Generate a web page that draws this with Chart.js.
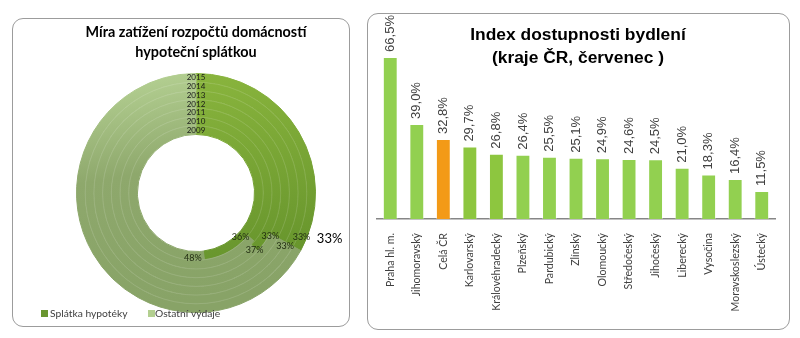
<!DOCTYPE html>
<html>
<head>
<meta charset="utf-8">
<script src="https://cdn.jsdelivr.net/npm/chart.js@4/dist/chart.umd.min.js"></script>
<style>
  body { margin: 0; background: #fff; width: 800px; height: 338px; position: relative; overflow: hidden; }
  .panel { position: absolute; box-sizing: border-box; border: 1px solid #9c9c9c; border-radius: 11px; background: #fff; }
  canvas { position: absolute; left: 0; top: 0; }
</style>
</head>
<body>
<div class="panel" style="left:12px; top:18px; width:338px; height:309px;"></div>
<div class="panel" style="left:367px; top:13px; width:423px; height:317px;"></div>
<canvas id="donut" width="338" height="309" style="left:12px; top:18px;"></canvas>
<canvas id="bars" width="423" height="317" style="left:367px; top:13px;"></canvas>
<script>
// left chart: rings from outside (2015) to inside (2009)
const years = ['2015', '2014', '2013', '2012', '2011', '2010', '2009'];
const mortgageShare = [33, 33, 33, 33, 37, 36, 48];
const otherShare = [67, 67, 67, 67, 63, 64, 52];
const shareLabels = ['Splátka hypotéky', 'Ostatní výdaje'];

// right chart
const regions = ['Praha hl. m.', 'Jihomoravský', 'Celá ČR', 'Karlovarský', 'Královéhradecký',
  'Plzeňský', 'Pardubický', 'Zlínský', 'Olomoucký', 'Středočeský', 'Jihočeský',
  'Liberecký', 'Vysočina', 'Moravskoslezský', 'Ústecký'];
const affordability = [66.5, 39.0, 32.8, 29.7, 26.8, 26.4, 25.5, 25.1, 24.9, 24.6, 24.5, 21.0, 18.3, 16.4, 11.5];

const calibri = 'Lato, "Open Sans", sans-serif';
const arial = '"Liberation Sans", Arial, sans-serif';

// label nudges per ring (degrees along the ring, pixels outward), like the hand-placed excel labels
const labelNudge = [[-10, 26], [-6, 8], [2, 6], [1.5, -3], [1, 1.5], [5, -9], [10, 2]];

function ringFill(ctx) {
  const chart = ctx.chart;
  const area = chart.chartArea;
  const dark = ctx.dataIndex === 0;
  if (!area) return dark ? '#7aa534' : '#93aa72';
  const g = chart.ctx.createLinearGradient(area.left, area.top, area.left + 40, area.bottom);
  if (dark) {
    g.addColorStop(0, '#8db83f');
    g.addColorStop(1, '#62902a');
  } else {
    g.addColorStop(0, '#b9d597');
    g.addColorStop(0.45, '#8ea86c');
    g.addColorStop(1, '#88a367');
  }
  return g;
}

const donutText = {
  id: 'donutText',
  afterDatasetsDraw(chart) {
    const c = chart.ctx;
    c.save();
    // faint seams between the rings
    chart.data.datasets.forEach((ds, i) => {
      if (i === 0) return;
      const arc = chart.getDatasetMeta(i).data[0];
      c.beginPath();
      c.arc(arc.x, arc.y, arc.outerRadius, 0, Math.PI * 2);
      c.strokeStyle = 'rgba(255,255,255,0.13)';
      c.lineWidth = 1;
      c.stroke();
    });
    chart.data.datasets.forEach((ds, i) => {
      const arc = chart.getDatasetMeta(i).data[0];
      const p = arc.getProps(['x', 'y', 'endAngle', 'innerRadius', 'outerRadius'], true);
      const r = (p.innerRadius + p.outerRadius) / 2;
      c.fillStyle = '#1a1a1a';
      c.font = '8px ' + calibri;
      c.textAlign = 'center';
      c.textBaseline = 'middle';
      c.fillText(ds.label, p.x, p.y - r);
      const txt = ds.data[0] + '%';
      const a = p.endAngle + labelNudge[i][0] * Math.PI / 180;
      const rr = r + labelNudge[i][1];
      if (i === 0) {
        c.font = '13px ' + calibri;
        c.fillStyle = '#000';
      } else {
        c.font = '9px ' + calibri;
        c.fillStyle = '#1f2a10';
      }
      c.fillText(txt, p.x + Math.cos(a) * rr, p.y + Math.sin(a) * rr);
    });
    c.restore();
  },
  afterDraw(chart) {
    const c = chart.ctx;
    c.save();
    c.fillStyle = '#000';
    c.font = 'bold 14.4px ' + calibri;
    c.textAlign = 'center';
    c.textBaseline = 'middle';
    c.fillText('Míra zatížení rozpočtů domácností', 184, 14);
    c.fillText('hypoteční splátkou', 184, 34);
    // legend
    const marks = [['#6a9630', 29, 38], ['#b3cf90', 136, 143]];
    c.font = '10.3px ' + calibri;
    c.textAlign = 'left';
    shareLabels.forEach((t, i) => {
      c.fillStyle = marks[i][0];
      c.fillRect(marks[i][1], 292, 7, 7);
      c.fillStyle = '#404040';
      c.fillText(t, marks[i][2], 296);
    });
    c.restore();
  }
};

new Chart(document.getElementById('donut'), {
  type: 'doughnut',
  data: {
    labels: shareLabels,
    datasets: years.map((y, i) => ({
      label: y,
      data: [mortgageShare[i], otherShare[i]],
      backgroundColor: ringFill,
      borderColor: ringFill,
      borderWidth: 1,
      hoverOffset: 0
    }))
  },
  options: {
    responsive: false,
    animation: false,
    cutout: '49%',
    layout: { padding: { left: 64, right: 34, top: 55, bottom: 14 } },
    plugins: { legend: { display: false }, tooltip: { enabled: false } }
  },
  plugins: [donutText]
});

const barColors = regions.map((r, i) => r === 'Celá ČR' ? '#f39a17' : (i === 3 || i === 4 ? '#8dc63f' : '#92d050'));

const barText = {
  id: 'barText',
  afterDatasetsDraw(chart) {
    const c = chart.ctx;
    const meta = chart.getDatasetMeta(0);
    c.save();
    c.fillStyle = '#404040';
    c.font = '13px ' + arial;
    c.textAlign = 'left';
    c.textBaseline = 'middle';
    meta.data.forEach((bar, i) => {
      c.save();
      c.translate(bar.x, bar.y - 5);
      c.rotate(-Math.PI / 2);
      c.fillText(affordability[i].toFixed(1).replace('.', ',') + '%', 0, 0);
      c.restore();
    });
    c.fillStyle = '#000';
    c.font = 'bold 17.4px ' + arial;
    c.textAlign = 'center';
    c.fillText('Index dostupnosti bydlení', 211, 22);
    c.fillText('(kraje ČR, červenec )', 211, 45);
    c.restore();
  }
};

new Chart(document.getElementById('bars'), {
  type: 'bar',
  data: {
    labels: regions,
    datasets: [{
      data: affordability,
      backgroundColor: barColors,
      borderColor: 'rgba(255,255,255,0.35)',
      borderWidth: 1,
      barPercentage: 0.56,
      categoryPercentage: 1
    }]
  },
  options: {
    responsive: false,
    animation: false,
    layout: { padding: { left: 10, right: 15, top: 11, bottom: 13 } },
    scales: {
      x: {
        grid: { display: false },
        border: { color: '#868686', width: 1.5 },
        afterFit(scale) { scale.height = 98; },
        ticks: {
          minRotation: 90, maxRotation: 90, autoSkip: false, padding: 6,
          color: '#404040', font: { family: calibri, size: 10.6 }
        }
      },
      y: { display: false, min: 0, max: 80 }
    },
    plugins: { legend: { display: false }, tooltip: { enabled: false } }
  },
  plugins: [barText]
});
</script>
</body>
</html>
